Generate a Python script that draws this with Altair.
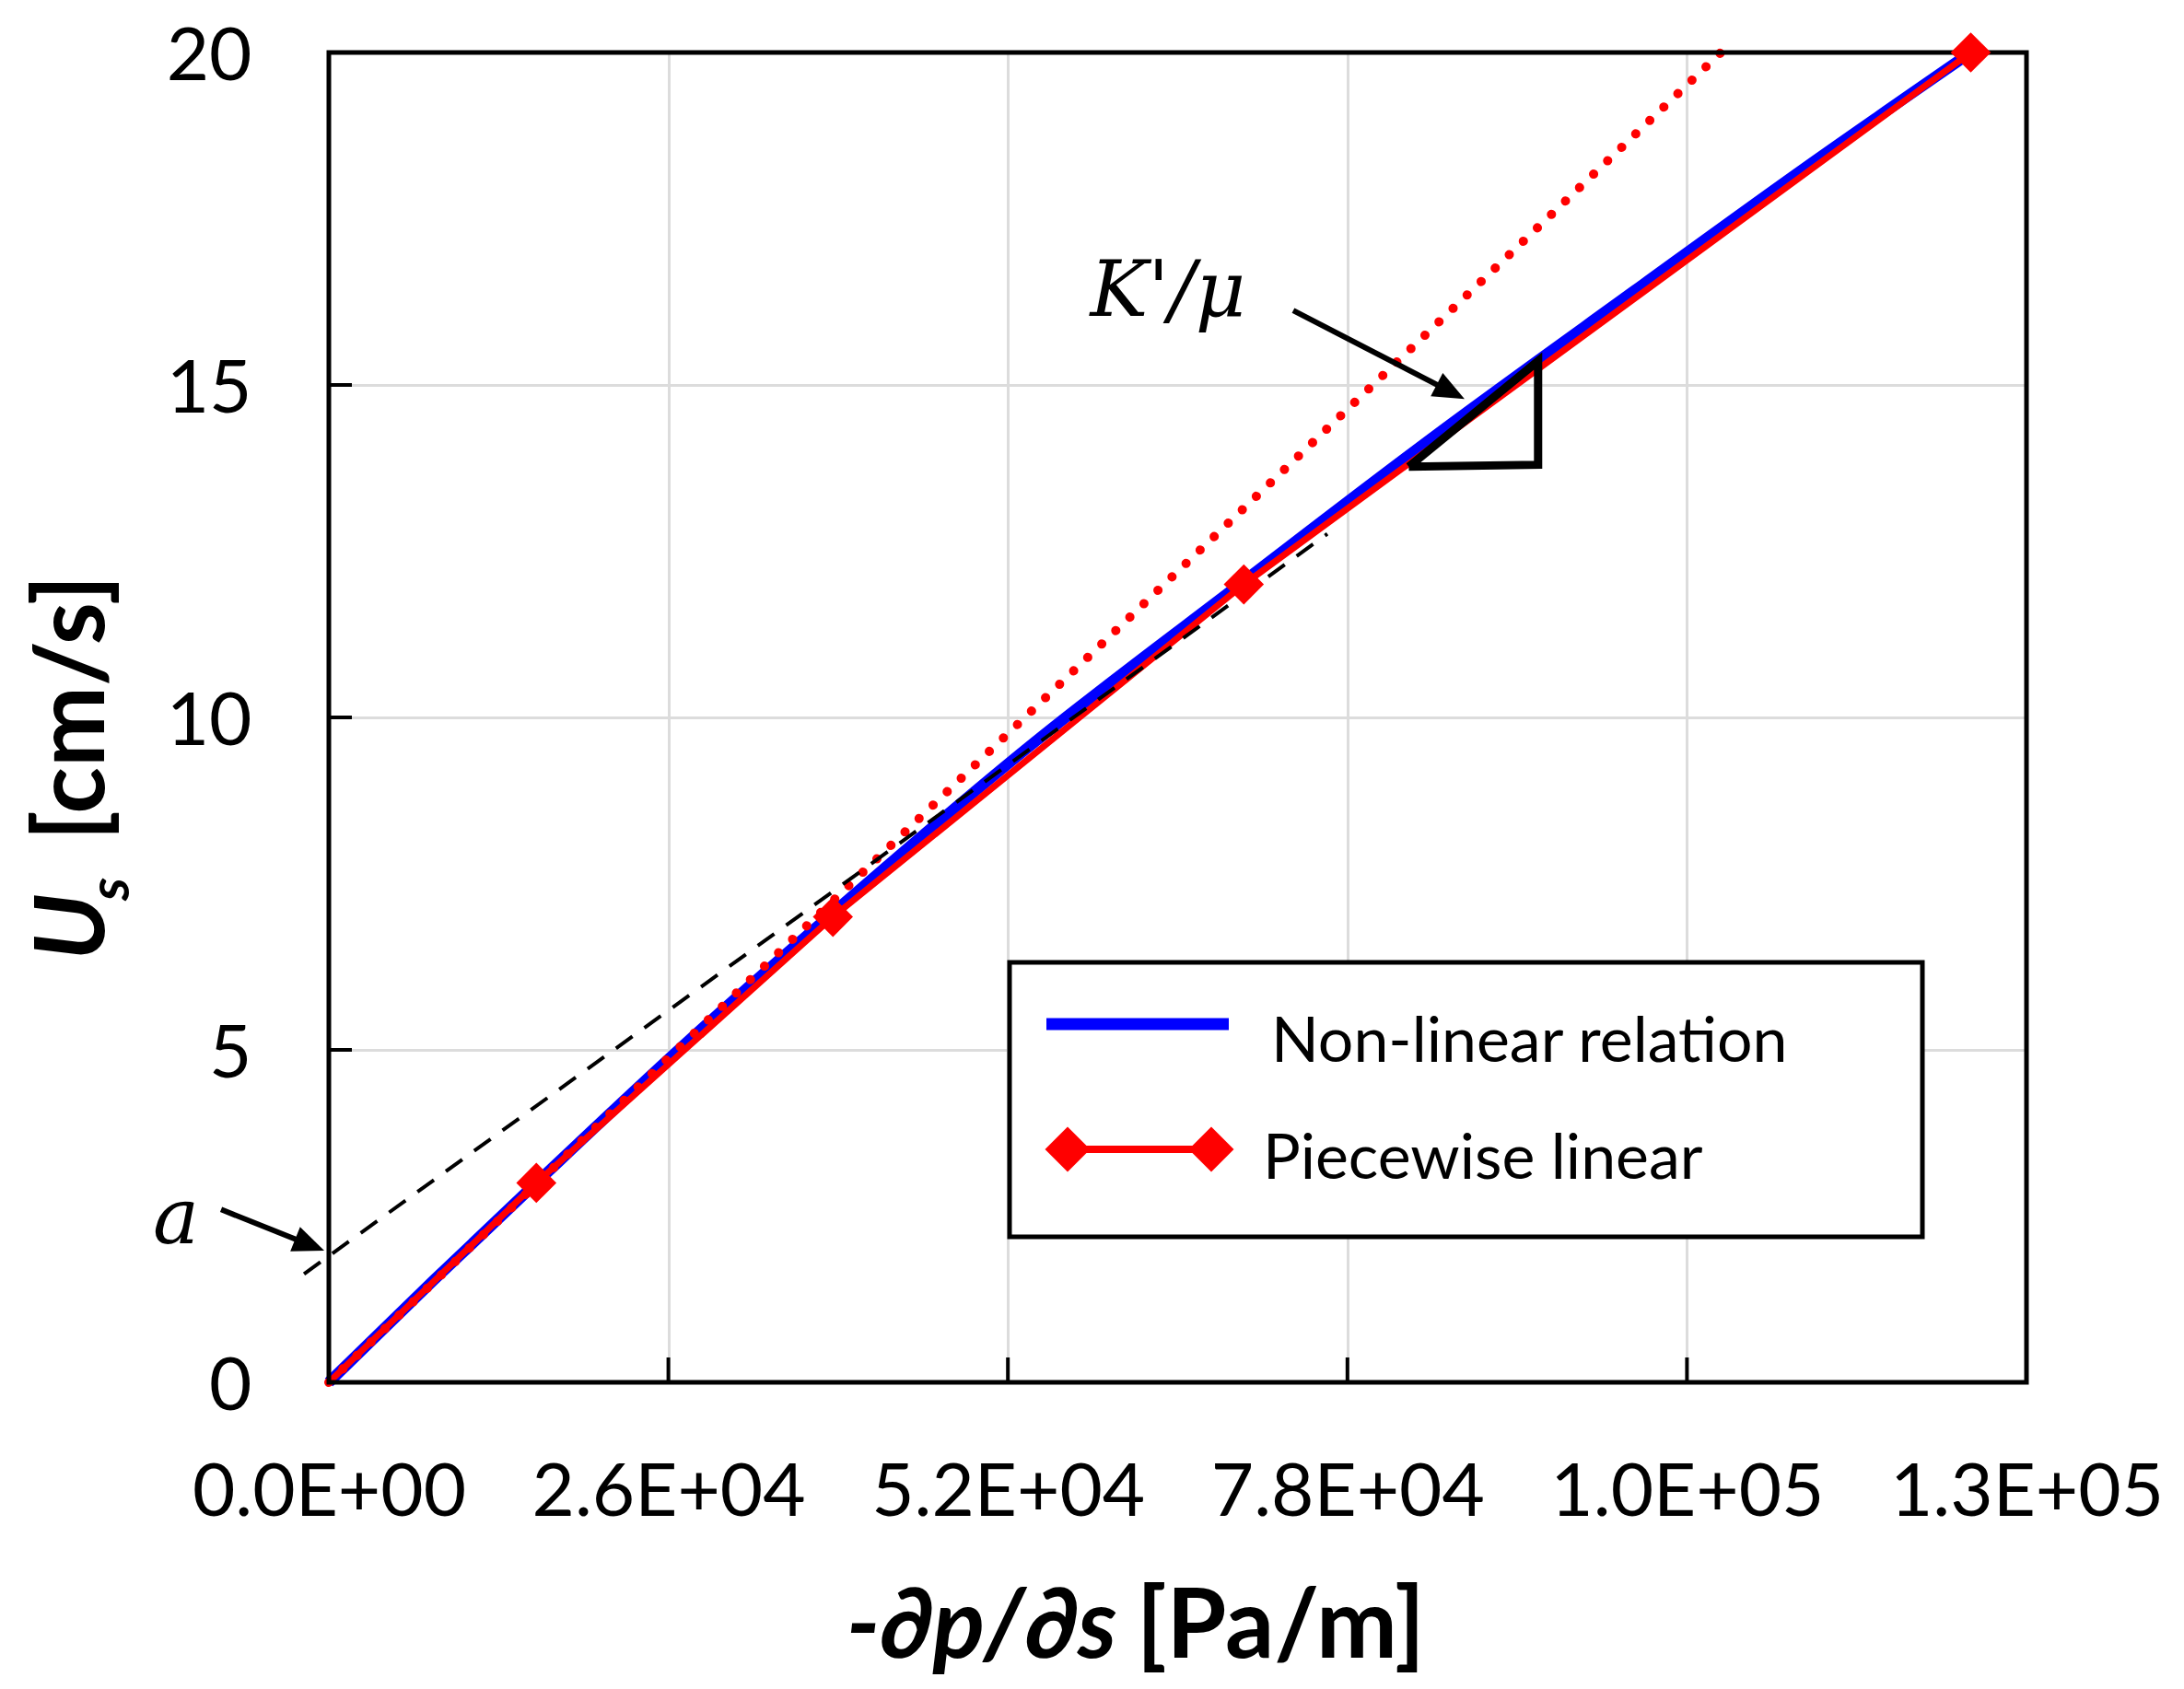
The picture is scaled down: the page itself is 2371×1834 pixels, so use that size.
import math
import altair as alt
import pandas as pd

# ---------------- data ----------------
pw_grad = [0, 15890, 38600, 70065, 125733]          # piecewise linear
pw_vel = [0.0, 3.0, 7.0, 12.0, 20.0]
marker_grad = [15890, 38600, 70065, 125733]
marker_vel = [3.0, 7.0, 12.0, 20.0]
nl_grad = [0, 8000, 15890, 27000, 38600, 54000, 70065, 85000, 100000, 113000, 125733]
nl_vel = [0.0, 1.53, 3.0, 5.04, 7.06, 9.62, 12.05, 14.28, 16.42, 18.26, 20.0]
tangent_grad = [0, 106600]                          # red dotted initial slope
tangent_vel = [0.0, 20.0]
asym_grad = [-1900, 76460]                          # black dashed line
asym_vel = [1.63, 12.76]
tri_grad = [82700, 92600, 92600, 82700]             # slope triangle
tri_vel = [13.77, 13.80, 15.36, 13.77]
x_ticks = [0, 26000, 52000, 78000, 104000, 130000]
x_tick_labels = ["0.0E+00", "2.6E+04", "5.2E+04", "7.8E+04", "1.0E+05", "1.3E+05"]
y_ticks = [0, 5, 10, 15, 20]
legend_labels = ["Non-linear relation", "Piecewise linear"]
arrow_k_grad = [73850, 86970]
arrow_k_vel = [16.12, 14.79]
arrow_a_grad = [-8250, -350]
arrow_a_vel = [2.60, 1.98]
label_k = "K'/\u03bc"
label_k_pos = (58300, 16.04)
label_a = "a"
label_a_pos = (-11700, 2.09)

# ---------------- layout ----------------
W, H = 1843, 1444
XMAX, YMAX = 130000, 20
BLUE, RED = "#0000ff", "#ff0000"
FONT = "Lato"

xscale = alt.Scale(domain=[0, XMAX], nice=False, zero=False)
yscale = alt.Scale(domain=[0, YMAX], nice=False, zero=False)
label_expr = "[" + ",".join("'%s'" % s for s in x_tick_labels) + "][round(datum.value/26000)]"
xaxis = alt.Axis(values=x_ticks, labelExpr=label_expr, grid=True, gridColor="#dcdcdc",
                 gridWidth=3, domain=False, ticks=False, tickSize=0, labelFont=FONT,
                 labelFontSize=80, labelColor="black", labelPadding=81, title=None,
                 labelFlush=False, labelOverlap=False, labelLimit=1000)
yaxis = alt.Axis(values=y_ticks, grid=True, gridColor="#dcdcdc", gridWidth=3, domain=False,
                 ticks=False, tickSize=0, labelFont=FONT, labelFontSize=80, labelColor="black",
                 labelPadding=84, labelOffset=5, title=None, labelFlush=False, labelLimit=1000)


def X(field="x"):
    return alt.X(f"{field}:Q", scale=xscale, axis=xaxis)


def Y(field="y"):
    return alt.Y(f"{field}:Q", scale=yscale, axis=yaxis)


def df(xs, ys):
    return pd.DataFrame({"x": xs, "y": ys, "o": list(range(len(xs)))})


one = pd.DataFrame({"k": [0]})

# frame
frame = alt.Chart(one).mark_rect(filled=False, stroke="black", strokeWidth=5).encode(
    x=alt.value(0), x2=alt.value(W), y=alt.value(0), y2=alt.value(H))

# inner tick marks
xt = alt.Chart(pd.DataFrame({"x": x_ticks})).mark_rule(color="black", strokeWidth=4).encode(
    x=X(), y=alt.value(H), y2=alt.value(H - 27))
yt = alt.Chart(pd.DataFrame({"y": y_ticks})).mark_rule(color="black", strokeWidth=4).encode(
    y=Y(), x=alt.value(0), x2=alt.value(25))

blue = alt.Chart(df(nl_grad, nl_vel)).mark_line(color=BLUE, strokeWidth=12, interpolate="monotone").encode(
    x=X(), y=Y(), order="o:Q")
red = alt.Chart(df(pw_grad, pw_vel)).mark_line(color=RED, strokeWidth=7).encode(
    x=X(), y=Y(), order="o:Q")
dotted = alt.Chart(df(tangent_grad, tangent_vel)).mark_line(
    color=RED, strokeWidth=10, strokeDash=[0.1, 21], strokeCap="round").encode(
    x=X(), y=Y(), order="o:Q")
dashed = alt.Chart(df(asym_grad, asym_vel)).mark_line(
    color="black", strokeWidth=4, strokeDash=[22, 16], clip=False).encode(
    x=X(), y=Y(), order="o:Q")
markers = alt.Chart(df(marker_grad, marker_vel)).mark_point(
    shape="diamond", filled=True, color=RED, size=1900, opacity=1).encode(x=X(), y=Y())
triangle = alt.Chart(df(tri_grad, tri_vel)).mark_line(
    color="black", strokeWidth=9, strokeJoin="miter").encode(x=X(), y=Y(), order="o:Q")


def px(dx, dy):
    return dx / XMAX * W, -dy / YMAX * H


HEAD = 34.0


def arrow(gx, vy):
    dxp, dyp = px(gx[1] - gx[0], vy[1] - vy[0])
    ang = math.degrees(math.atan2(dyp, dxp)) % 360
    L = math.hypot(dxp, dyp)
    f = 1 - (HEAD * 0.6) / L
    end_x = gx[0] + (gx[1] - gx[0]) * f
    end_y = vy[0] + (vy[1] - vy[0]) * f
    shaft = alt.Chart(pd.DataFrame({"x": [gx[0]], "y": [vy[0]], "x2": [end_x], "y2": [end_y]})).mark_rule(
        color="black", strokeWidth=6, clip=False).encode(
        x=X(), y=Y(), x2="x2:Q", y2="y2:Q")
    head = alt.Chart(pd.DataFrame({"x": [gx[1]], "y": [vy[1]]})).mark_point(
        shape="M0,0L-1,-0.42L-1,0.42Z", filled=True, color="black", opacity=1,
        size=(2 * HEAD) ** 2, angle=ang, clip=False).encode(x=X(), y=Y())
    return shaft + head


arrow_k = arrow(arrow_k_grad, arrow_k_vel)
arrow_a = arrow(arrow_a_grad, arrow_a_vel)

txt_k = alt.Chart(pd.DataFrame({"x": [label_k_pos[0]], "y": [label_k_pos[1]], "t": [label_k]})).mark_text(
    font="DejaVu Serif", fontStyle="italic", fontSize=84, align="left", baseline="alphabetic",
    color="black").encode(x=X(), y=Y(), text="t:N")
txt_a = alt.Chart(pd.DataFrame({"x": [label_a_pos[0]], "y": [label_a_pos[1]], "t": [label_a]})).mark_text(
    font="DejaVu Serif", fontStyle="italic", fontSize=84, align="center", baseline="alphabetic",
    color="black", clip=False).encode(x=X(), y=Y(), text="t:N")


def ptext(t, x, y, size, weight="normal", style="normal", align="left", angle=0):
    return alt.Chart(one).mark_text(
        text=t, font=FONT, fontSize=size, fontWeight=weight, fontStyle=style,
        align=align, baseline="alphabetic", angle=angle, color="black").encode(
        x=alt.value(x), y=alt.value(y))


# axis titles
xt1 = ptext("-\u2202p/\u2202s", 562, 1743, 105, "bold", "italic", "left")
xt2 = ptext("[Pa/m]", 1190, 1743, 105, "bold", "normal", "right")
yt1 = ptext("U", -244, 986, 105, "bold", "italic", "left", 270)
yt2 = ptext("s", -217, 921, 62, "bold", "italic", "left", 270)
yt3 = ptext("[cm/s]", -244, 856, 105, "bold", "normal", "left", 270)

# legend
leg_box = alt.Chart(one).mark_rect(fill="white", stroke="black", strokeWidth=5).encode(
    x=alt.value(739), x2=alt.value(1730), y=alt.value(988), y2=alt.value(1286))
leg_blue = alt.Chart(one).mark_rule(color=BLUE, strokeWidth=13).encode(
    x=alt.value(779), x2=alt.value(977), y=alt.value(1055))
leg_red = alt.Chart(one).mark_rule(color=RED, strokeWidth=8).encode(
    x=alt.value(800), x2=alt.value(960), y=alt.value(1191))
leg_d1 = alt.Chart(one).mark_point(shape="diamond", filled=True, color=RED, size=2400, opacity=1).encode(
    x=alt.value(802), y=alt.value(1191))
leg_d2 = alt.Chart(one).mark_point(shape="diamond", filled=True, color=RED, size=2400, opacity=1).encode(
    x=alt.value(958), y=alt.value(1191))
leg_t1 = ptext(legend_labels[0], 1023, 1096, 68)
leg_t2 = ptext(legend_labels[1], 1014, 1223, 68)

chart = alt.layer(
    blue, red, dotted, dashed, frame, xt, yt, markers, triangle, arrow_k, arrow_a, txt_k, txt_a,
    xt1, xt2, yt1, yt2, yt3,
    leg_box, leg_blue, leg_red, leg_d1, leg_d2, leg_t1, leg_t2,
).properties(
    width=W, height=H,
    autosize=alt.AutoSizeParams(type="none"),
    padding={"left": 349, "top": 49, "right": 163, "bottom": 325},
    background="white",
).configure_view(stroke=None)

chart.save("out.html", embed_options={"renderer": "svg", "actions": False})
